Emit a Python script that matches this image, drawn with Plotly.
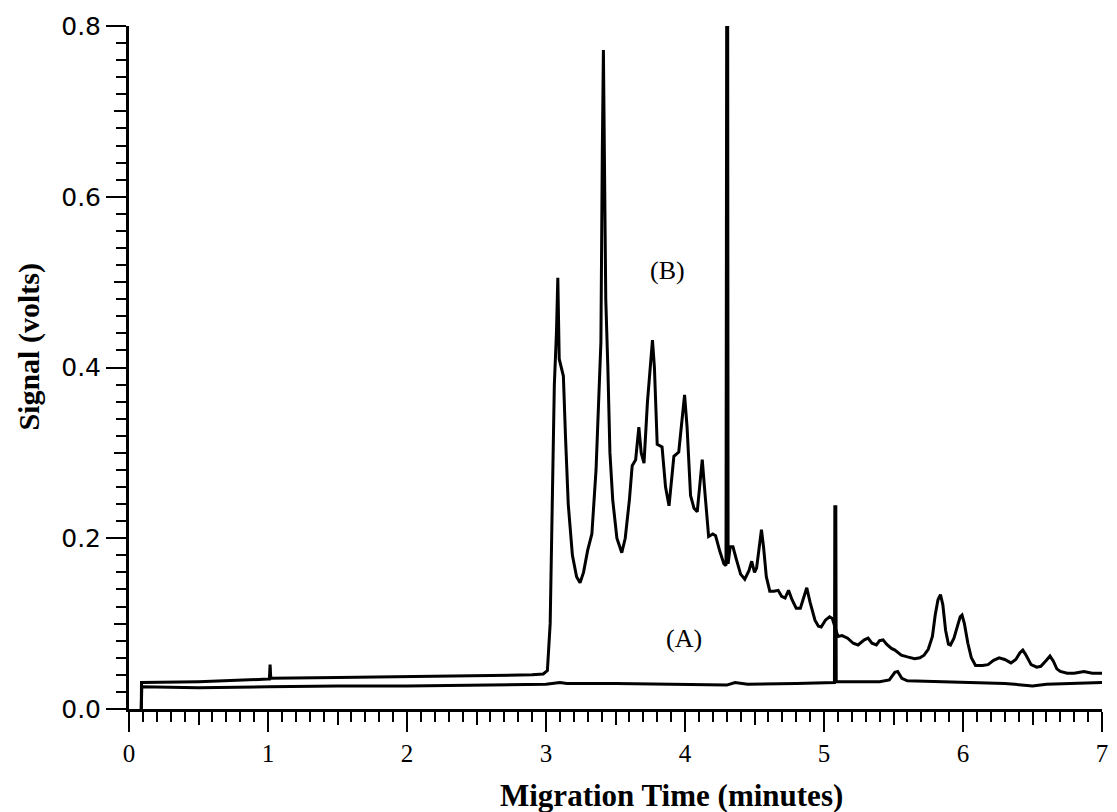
import plotly.graph_objects as go

# ---- data ----
b_time = [0.0, 0.088, 0.09, 0.5, 1.0, 1.01, 1.015, 1.02, 1.5, 2.0, 2.5, 2.9, 2.98, 3.01, 3.03, 3.045,
          3.06, 3.075, 3.085, 3.095, 3.11, 3.125, 3.14, 3.16, 3.19, 3.22, 3.245, 3.27, 3.30, 3.33,
          3.36, 3.38, 3.395, 3.405, 3.413, 3.42, 3.43, 3.445, 3.46, 3.48, 3.51, 3.545, 3.57, 3.60,
          3.62, 3.645, 3.668, 3.685, 3.705, 3.73, 3.75, 3.766, 3.78, 3.80, 3.835, 3.86, 3.885, 3.905,
          3.92, 3.955, 3.975, 3.997, 4.015, 4.04, 4.065, 4.088, 4.105, 4.124, 4.14, 4.17, 4.20, 4.22,
          4.25, 4.28, 4.295, 4.30, 4.307, 4.31, 4.325, 4.345, 4.37, 4.40, 4.43, 4.46, 4.48, 4.50,
          4.515, 4.535, 4.55, 4.565, 4.585, 4.61, 4.64, 4.67, 4.695, 4.72, 4.745, 4.77, 4.80, 4.83,
          4.855, 4.876, 4.90, 4.935, 4.96, 4.98, 5.01, 5.04, 5.06, 5.08, 5.10, 5.13, 5.17, 5.21,
          5.245, 5.29, 5.317, 5.345, 5.377, 5.40, 5.425, 5.45, 5.485, 5.51, 5.556, 5.60, 5.652, 5.69,
          5.72, 5.75, 5.78, 5.80, 5.82, 5.838, 5.855, 5.875, 5.895, 5.91, 5.935, 5.96, 5.98, 5.993,
          6.01, 6.035, 6.06, 6.09, 6.14, 6.18, 6.22, 6.26, 6.30, 6.345, 6.38, 6.41, 6.43, 6.45,
          6.49, 6.53, 6.56, 6.60, 6.626, 6.65, 6.675, 6.70, 6.75, 6.80, 6.87, 6.93, 7.0]
b_signal = [-0.002, -0.002, 0.031, 0.032, 0.035, 0.035, 0.052, 0.036, 0.037, 0.038, 0.039, 0.040, 0.041, 0.045, 0.10, 0.25,
            0.38, 0.44, 0.505, 0.41, 0.40, 0.39, 0.32, 0.24, 0.18, 0.155, 0.148, 0.16, 0.186, 0.205,
            0.28, 0.36, 0.43, 0.65, 0.772, 0.65, 0.48, 0.40, 0.30, 0.245, 0.20, 0.183, 0.20, 0.245,
            0.285, 0.292, 0.33, 0.30, 0.288, 0.36, 0.40, 0.432, 0.40, 0.31, 0.307, 0.26, 0.238, 0.27,
            0.296, 0.301, 0.33, 0.368, 0.33, 0.25, 0.235, 0.231, 0.26, 0.292, 0.26, 0.202, 0.205, 0.203,
            0.185, 0.17, 0.168, 0.82, 0.82, 0.17, 0.19, 0.19, 0.175, 0.158, 0.152, 0.162, 0.173, 0.16,
            0.165, 0.195, 0.21, 0.19, 0.155, 0.138, 0.138, 0.139, 0.132, 0.13, 0.139, 0.128, 0.118, 0.118,
            0.132, 0.142, 0.125, 0.104, 0.097, 0.096, 0.104, 0.108, 0.106, 0.095, 0.085, 0.086, 0.083, 0.077,
            0.075, 0.081, 0.083, 0.077, 0.075, 0.080, 0.081, 0.076, 0.071, 0.069, 0.063, 0.061, 0.059, 0.060,
            0.063, 0.070, 0.085, 0.110, 0.128, 0.134, 0.122, 0.092, 0.076, 0.075, 0.083, 0.097, 0.108, 0.110,
            0.100, 0.077, 0.060, 0.051, 0.051, 0.052, 0.057, 0.060, 0.058, 0.054, 0.058, 0.066, 0.069, 0.064,
            0.052, 0.049, 0.050, 0.057, 0.062, 0.056, 0.047, 0.044, 0.042, 0.042, 0.044, 0.042, 0.042]

a_time = [0.0, 0.088, 0.092, 0.5, 1.0, 1.5, 2.0, 2.5, 3.0, 3.1, 3.15, 3.5, 4.0, 4.3, 4.36, 4.45,
          4.8, 5.075, 5.078, 5.085, 5.088, 5.40, 5.47, 5.51, 5.53, 5.56, 5.60, 6.0, 6.3, 6.5, 6.6, 7.0]
a_signal = [-0.002, -0.002, 0.026, 0.025, 0.026, 0.027, 0.027, 0.028, 0.029, 0.031, 0.030, 0.030, 0.029, 0.028, 0.031, 0.029,
            0.030, 0.031, 0.237, 0.237, 0.032, 0.032, 0.034, 0.043, 0.044, 0.036, 0.033, 0.031, 0.030, 0.027, 0.029, 0.031]

x_major = [0, 1, 2, 3, 4, 5, 6, 7]
x_half = [0.5, 1.5, 2.5, 3.5, 4.5, 5.5, 6.5]
y_major = [0.0, 0.2, 0.4, 0.6, 0.8]
y_half = [0.1, 0.3, 0.5, 0.7]

fig = go.Figure()
fig.add_trace(go.Scatter(x=b_time, y=b_signal, mode="lines", name="(B)",
                         line=dict(color="black", width=3), showlegend=False))
fig.add_trace(go.Scatter(x=a_time, y=a_signal, mode="lines", name="(A)",
                         line=dict(color="black", width=3), showlegend=False))
# helper trace so the overlay axes (mid-length ticks) are drawn
fig.add_trace(go.Scatter(x=[None], y=[None], xaxis="x2", yaxis="y2", showlegend=False,
                         hoverinfo="skip"))

serif = "Liberation Serif, Times New Roman, serif"
sans = "DejaVu Sans, Arial, sans-serif"

L, R, T, B = 129, 9, 26, 103
W, H = 1117, 812

fig.update_layout(
    width=W, height=H,
    margin=dict(l=L, r=R, t=T, b=B),
    paper_bgcolor="white", plot_bgcolor="white",
    xaxis=dict(range=[0, 7], tickvals=x_major, ticktext=[str(v) for v in x_major],
               ticks="outside", ticklen=20, tickwidth=2.4, tickcolor="black",
               showline=True, linecolor="black", linewidth=3, showgrid=False, zeroline=False,
               tickfont=dict(family=serif, size=25, color="black"),
               minor=dict(dtick=0.1, tick0=0, ticks="outside", ticklen=10, tickwidth=2.2,
                          tickcolor="black", showgrid=False)),
    xaxis2=dict(range=[0, 7], overlaying="x", anchor="y", side="bottom", tickvals=x_half,
                ticks="outside", ticklen=15, tickwidth=2.2, tickcolor="black",
                showticklabels=False, showline=False, showgrid=False, zeroline=False),
    yaxis=dict(range=[0, 0.8], tickvals=y_major, tickformat=".1f",
               ticks="outside", ticklen=20, tickwidth=2.4, tickcolor="black",
               showline=True, linecolor="black", linewidth=3, showgrid=False, zeroline=False,
               tickfont=dict(family=sans, size=25, color="black"),
               minor=dict(dtick=0.02, tick0=0, ticks="outside", ticklen=10, tickwidth=2.2,
                          tickcolor="black", showgrid=False)),
    yaxis2=dict(range=[0, 0.8], overlaying="y", anchor="x", side="left", tickvals=y_half,
                ticks="outside", ticklen=14, tickwidth=2.2, tickcolor="black",
                showticklabels=False, showline=False, showgrid=False, zeroline=False),
)

pw, ph = W - L - R, H - T - B


def paper_x(px):
    return (px - L) / pw


def paper_y(py):
    return (H - B - py) / ph


fig.update_layout(annotations=[
    dict(text="(B)", x=3.875, y=0.514, xref="x", yref="y", showarrow=False,
         xanchor="center", yanchor="middle",
         font=dict(family=serif, size=26, color="black")),
    dict(text="(A)", x=3.99, y=0.083, xref="x", yref="y", showarrow=False,
         xanchor="center", yanchor="middle",
         font=dict(family=serif, size=26, color="black")),
    dict(text="<b>Migration Time (minutes)</b>", x=paper_x(675), y=paper_y(795),
         xref="paper", yref="paper", showarrow=False, xanchor="center", yanchor="middle",
         font=dict(family=serif, size=31, color="black")),
    dict(text="<b>Signal (volts)</b>", x=paper_x(28), y=paper_y(347),
         xref="paper", yref="paper", showarrow=False, textangle=-90,
         xanchor="center", yanchor="middle",
         font=dict(family=serif, size=30, color="black")),
])

fig.write_html("out.html")
